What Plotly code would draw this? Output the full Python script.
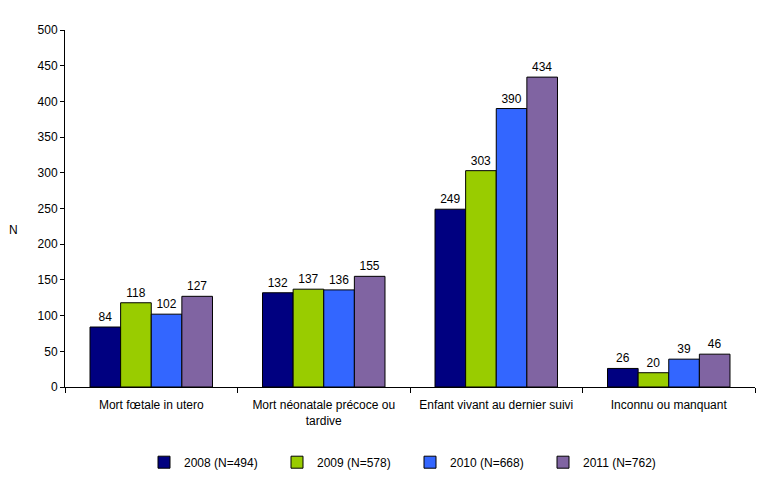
import plotly.graph_objects as go

categories = ["Mort fœtale in utero", "Mort néonatale précoce ou<br>tardive",
              "Enfant vivant au dernier suivi", "Inconnu ou manquant"]
series_names = ["2008 (N=494)", "2009 (N=578)", "2010 (N=668)", "2011 (N=762)"]
v2008 = [84, 132, 249, 26]
v2009 = [118, 137, 303, 20]
v2010 = [102, 136, 390, 39]
v2011 = [127, 155, 434, 46]
colors = ["#000080", "#99CC00", "#3366FF", "#8064A2"]

fig = go.Figure()
for name, vals, c in zip(series_names, [v2008, v2009, v2010, v2011], colors):
    fig.add_trace(go.Bar(
        x=categories, y=vals, name=name,
        marker=dict(color=c, line=dict(color="black", width=1)),
        text=vals, textposition="outside",
        textfont=dict(color="black", size=12),
        cliponaxis=False,
    ))

fig.update_layout(
    width=748, height=470,
    margin=dict(l=57, r=1, t=22, b=87),
    barmode="group", bargap=0.29, bargroupgap=0,
    plot_bgcolor="white", paper_bgcolor="white",
    font=dict(family="Liberation Sans, Arial", size=12, color="black"),
    showlegend=True,
    legend=dict(orientation="h", x=0.5, xanchor="center", y=-0.17, yanchor="top",
                font=dict(size=12), entrywidth=88, traceorder="normal"),
    xaxis=dict(showline=True, linecolor="black", ticks="outside", tickson="boundaries",
               ticklen=5, tickcolor="black", showgrid=False, automargin=False,
               ticklabelstandoff=7),
    yaxis=dict(range=[0, 500], dtick=50, showline=True, linecolor="black",
               ticks="outside", ticklen=4, tickcolor="black", showgrid=False,
               zeroline=False, automargin=False),
    annotations=[dict(text="N", xref="paper", yref="paper", x=-0.075, y=0.44,
                      xanchor="center", showarrow=False, font=dict(size=12))],
)

fig.write_html("out.html")
